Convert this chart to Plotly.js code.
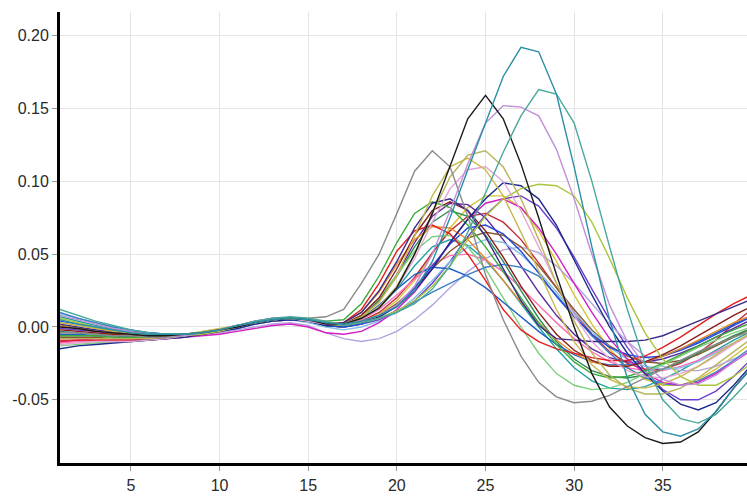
<!DOCTYPE html>
<html>
<head>
<meta charset="utf-8">
<script src="https://cdn.plot.ly/plotly-3.0.1.min.js"></script>
<style>html,body{margin:0;padding:0;background:#fff;}#chart{width:747px;height:499px;}</style>
</head>
<body>
<div id="chart"></div>
<script>
const cycles = [1,2,3,4,5,6,7,8,9,10,11,12,13,14,15,16,17,18,19,20,21,22,23,24,25,26,27,28,29,30,31,32,33,34,35,36,37,38,39,40];

const xTickVals = [5,10,15,20,25,30,35,40];
const xTickText = ["5","10","15","20","25","30","35","40"];
const yTickVals = [-0.05,0,0.05,0.10,0.15,0.20];
const yTickText = ["-0.05","0.00","0.05","0.10","0.15","0.20"];

const wellTeal = [0.005,0.002,0.000,-0.002,-0.004,-0.005,-0.005,-0.005,-0.004,-0.002,0.001,0.003,0.005,0.006,0.005,0.003,0.002,0.004,0.008,0.014,0.025,0.045,0.075,0.108,0.140,0.172,0.192,0.189,0.160,0.110,0.055,0.005,-0.035,-0.060,-0.072,-0.075,-0.070,-0.058,-0.042,-0.028];
const wellLightTeal = [0.012,0.008,0.004,0.001,-0.002,-0.004,-0.005,-0.005,-0.004,-0.002,0.001,0.004,0.006,0.007,0.006,0.004,0.001,0.003,0.006,0.010,0.016,0.026,0.042,0.065,0.092,0.120,0.145,0.163,0.160,0.140,0.100,0.055,0.012,-0.025,-0.050,-0.063,-0.066,-0.060,-0.048,-0.035];
const wellBlack = [0.000,-0.001,-0.003,-0.004,-0.005,-0.006,-0.006,-0.005,-0.004,-0.002,0.000,0.003,0.005,0.006,0.005,0.002,0.002,0.006,0.013,0.027,0.050,0.078,0.110,0.143,0.159,0.143,0.112,0.075,0.036,0.000,-0.032,-0.055,-0.068,-0.076,-0.080,-0.079,-0.072,-0.058,-0.042,-0.028];
const wellPlum = [0.008,0.005,0.002,-0.001,-0.003,-0.005,-0.006,-0.006,-0.004,-0.002,0.001,0.004,0.006,0.006,0.005,0.003,0.002,0.004,0.008,0.015,0.028,0.050,0.080,0.112,0.140,0.152,0.151,0.145,0.122,0.088,0.050,0.015,-0.010,-0.026,-0.036,-0.040,-0.039,-0.033,-0.024,-0.015];
const wellGrey = [-0.004,-0.004,-0.005,-0.006,-0.006,-0.007,-0.007,-0.006,-0.004,-0.002,0.000,0.003,0.005,0.006,0.006,0.007,0.012,0.030,0.050,0.078,0.107,0.121,0.110,0.076,0.036,0.005,-0.020,-0.038,-0.048,-0.052,-0.051,-0.047,-0.041,-0.035,-0.029,-0.023,-0.017,-0.012,-0.007,-0.003];
const wellKhaki = [-0.008,-0.008,-0.008,-0.008,-0.008,-0.008,-0.007,-0.006,-0.004,-0.002,0.001,0.003,0.005,0.006,0.005,0.003,0.002,0.006,0.014,0.028,0.050,0.078,0.103,0.118,0.121,0.110,0.088,0.060,0.030,0.004,-0.018,-0.033,-0.042,-0.046,-0.046,-0.042,-0.035,-0.026,-0.017,-0.008];
const wellOlive = [0.003,0.001,-0.001,-0.003,-0.004,-0.005,-0.005,-0.005,-0.003,-0.001,0.001,0.003,0.005,0.006,0.005,0.003,0.002,0.007,0.017,0.035,0.062,0.090,0.110,0.116,0.108,0.090,0.065,0.038,0.012,-0.010,-0.026,-0.036,-0.041,-0.042,-0.039,-0.034,-0.027,-0.019,-0.011,-0.004];
const wellPinkLight = [-0.012,-0.011,-0.010,-0.010,-0.010,-0.009,-0.008,-0.006,-0.004,-0.002,0.000,0.003,0.005,0.006,0.004,0.002,0.002,0.006,0.014,0.027,0.047,0.072,0.095,0.108,0.110,0.100,0.080,0.055,0.030,0.008,-0.010,-0.022,-0.030,-0.034,-0.035,-0.032,-0.027,-0.020,-0.012,-0.005];
const wellYellowGreen = [0.006,0.003,0.000,-0.002,-0.004,-0.005,-0.006,-0.006,-0.005,-0.003,0.000,0.003,0.005,0.006,0.004,0.002,0.001,0.003,0.006,0.011,0.018,0.028,0.042,0.060,0.076,0.088,0.095,0.098,0.097,0.090,0.072,0.047,0.020,-0.004,-0.022,-0.034,-0.040,-0.040,-0.034,-0.025];
const wellNavy = [-0.015,-0.013,-0.012,-0.011,-0.010,-0.009,-0.008,-0.007,-0.005,-0.003,-0.001,0.002,0.004,0.005,0.004,0.001,0.001,0.003,0.007,0.014,0.025,0.040,0.058,0.074,0.088,0.099,0.097,0.088,0.070,0.046,0.022,0.000,-0.018,-0.032,-0.044,-0.053,-0.057,-0.052,-0.040,-0.026];
const wellIndigo = [0.002,0.000,-0.002,-0.003,-0.004,-0.005,-0.006,-0.005,-0.004,-0.002,0.001,0.004,0.006,0.006,0.005,0.002,0.003,0.010,0.025,0.045,0.068,0.085,0.088,0.080,0.062,0.040,0.018,0.001,-0.008,-0.009,-0.010,-0.010,-0.010,-0.009,-0.006,-0.001,0.004,0.009,0.014,0.019];
const wellGreen = [-0.006,-0.006,-0.006,-0.007,-0.007,-0.007,-0.007,-0.006,-0.004,-0.002,0.000,0.003,0.005,0.006,0.005,0.004,0.005,0.016,0.035,0.058,0.078,0.086,0.082,0.070,0.055,0.038,0.020,0.003,-0.012,-0.024,-0.032,-0.035,-0.034,-0.030,-0.025,-0.019,-0.013,-0.007,-0.002,0.003];
const wellDarkRed = [-0.002,-0.003,-0.004,-0.005,-0.006,-0.007,-0.007,-0.006,-0.005,-0.003,0.000,0.003,0.005,0.006,0.005,0.002,0.002,0.008,0.020,0.040,0.063,0.080,0.086,0.080,0.066,0.048,0.028,0.010,-0.005,-0.016,-0.023,-0.027,-0.027,-0.024,-0.019,-0.013,-0.006,0.001,0.008,0.014];
const wellRed = [-0.010,-0.009,-0.009,-0.009,-0.009,-0.009,-0.008,-0.006,-0.005,-0.003,0.000,0.003,0.005,0.006,0.005,0.003,0.003,0.012,0.030,0.052,0.066,0.070,0.064,0.050,0.032,0.012,-0.002,-0.010,-0.015,-0.018,-0.021,-0.023,-0.023,-0.020,-0.014,-0.007,0.001,0.009,0.016,0.022];
const wellOrange = [0.001,-0.001,-0.002,-0.004,-0.005,-0.006,-0.006,-0.005,-0.004,-0.002,0.001,0.003,0.005,0.006,0.005,0.003,0.003,0.010,0.024,0.043,0.060,0.069,0.068,0.060,0.047,0.032,0.017,0.003,-0.009,-0.018,-0.024,-0.027,-0.027,-0.024,-0.020,-0.015,-0.009,-0.003,0.003,0.008];
const wellMagenta = [-0.010,-0.009,-0.008,-0.008,-0.008,-0.008,-0.008,-0.007,-0.006,-0.005,-0.003,-0.001,0.001,0.002,0.000,-0.004,-0.005,-0.003,0.003,0.012,0.024,0.040,0.058,0.074,0.085,0.088,0.082,0.068,0.050,0.030,0.010,-0.008,-0.022,-0.032,-0.038,-0.040,-0.038,-0.032,-0.024,-0.016];
const wellBlue = [0.004,0.002,0.000,-0.002,-0.003,-0.004,-0.005,-0.005,-0.004,-0.002,0.001,0.003,0.005,0.006,0.004,0.001,0.000,0.002,0.007,0.015,0.027,0.042,0.057,0.068,0.070,0.064,0.052,0.037,0.021,0.007,-0.005,-0.014,-0.019,-0.021,-0.020,-0.016,-0.011,-0.005,0.001,0.007];
const wellSteelBlue = [0.010,0.006,0.003,0.000,-0.002,-0.004,-0.005,-0.005,-0.004,-0.002,0.000,0.003,0.005,0.005,0.004,0.001,0.000,0.002,0.006,0.011,0.017,0.024,0.030,0.036,0.041,0.043,0.041,0.035,0.022,0.008,-0.006,-0.018,-0.028,-0.035,-0.039,-0.040,-0.037,-0.031,-0.023,-0.014];
const wellBlue2 = [-0.005,-0.005,-0.006,-0.006,-0.007,-0.007,-0.007,-0.006,-0.004,-0.002,0.000,0.003,0.005,0.006,0.004,0.002,0.001,0.006,0.015,0.026,0.036,0.041,0.040,0.035,0.027,0.017,0.007,-0.003,-0.012,-0.019,-0.024,-0.026,-0.026,-0.024,-0.020,-0.015,-0.010,-0.004,0.002,0.007];
const wellLightBlue = [0.009,0.006,0.003,0.000,-0.002,-0.004,-0.005,-0.005,-0.004,-0.003,-0.001,0.002,0.004,0.005,0.003,0.000,-0.002,0.000,0.004,0.010,0.020,0.032,0.045,0.055,0.060,0.058,0.050,0.038,0.024,0.010,-0.003,-0.014,-0.022,-0.027,-0.029,-0.028,-0.024,-0.018,-0.011,-0.004];
const wellLightGreen = [-0.013,-0.012,-0.011,-0.010,-0.010,-0.009,-0.008,-0.006,-0.004,-0.002,0.000,0.003,0.005,0.006,0.005,0.003,0.002,0.008,0.020,0.036,0.052,0.062,0.063,0.055,0.040,0.020,0.000,-0.018,-0.032,-0.040,-0.043,-0.042,-0.038,-0.032,-0.026,-0.020,-0.014,-0.009,-0.004,0.000];
const wellSeaGreen = [-0.003,-0.004,-0.005,-0.005,-0.006,-0.006,-0.006,-0.005,-0.004,-0.002,0.001,0.003,0.005,0.006,0.005,0.003,0.002,0.007,0.018,0.035,0.055,0.072,0.080,0.076,0.063,0.045,0.025,0.006,-0.010,-0.022,-0.030,-0.034,-0.035,-0.033,-0.029,-0.024,-0.018,-0.012,-0.006,-0.001];
const wellBrown = [-0.007,-0.007,-0.007,-0.008,-0.008,-0.008,-0.007,-0.006,-0.004,-0.002,0.000,0.002,0.004,0.005,0.004,0.001,0.000,0.003,0.008,0.016,0.027,0.040,0.052,0.061,0.065,0.063,0.055,0.042,0.027,0.012,-0.002,-0.013,-0.020,-0.024,-0.025,-0.023,-0.019,-0.013,-0.007,-0.001];
const wellViolet = [0.001,-0.001,-0.002,-0.004,-0.005,-0.005,-0.006,-0.005,-0.004,-0.002,0.001,0.003,0.005,0.006,0.005,0.003,0.002,0.007,0.018,0.036,0.058,0.076,0.085,0.084,0.075,0.060,0.042,0.024,0.008,-0.005,-0.015,-0.021,-0.024,-0.024,-0.022,-0.018,-0.013,-0.007,-0.001,0.005];
const wellHotPink = [-0.011,-0.010,-0.010,-0.010,-0.010,-0.009,-0.008,-0.007,-0.005,-0.003,-0.001,0.002,0.004,0.005,0.004,0.002,0.001,0.005,0.012,0.022,0.033,0.043,0.049,0.050,0.046,0.038,0.027,0.015,0.003,-0.008,-0.017,-0.024,-0.028,-0.030,-0.030,-0.027,-0.023,-0.017,-0.011,-0.005];
const wellLavender = [-0.006,-0.006,-0.006,-0.006,-0.006,-0.006,-0.006,-0.006,-0.005,-0.004,-0.002,0.000,0.002,0.003,0.001,-0.004,-0.008,-0.010,-0.008,-0.003,0.005,0.015,0.027,0.038,0.047,0.053,0.055,0.051,0.042,0.030,0.016,0.002,-0.010,-0.020,-0.027,-0.030,-0.030,-0.027,-0.022,-0.016];
const wellTealGreen = [0.007,0.004,0.001,-0.001,-0.003,-0.005,-0.006,-0.006,-0.004,-0.002,0.001,0.003,0.005,0.006,0.005,0.003,0.001,0.005,0.013,0.026,0.042,0.055,0.060,0.056,0.046,0.032,0.016,0.000,-0.015,-0.028,-0.037,-0.042,-0.043,-0.041,-0.036,-0.030,-0.023,-0.016,-0.009,-0.003];
const wellCrimson = [-0.009,-0.009,-0.009,-0.009,-0.009,-0.008,-0.008,-0.006,-0.005,-0.003,0.000,0.003,0.005,0.006,0.005,0.002,0.001,0.004,0.010,0.020,0.034,0.051,0.066,0.076,0.078,0.072,0.060,0.044,0.027,0.010,-0.005,-0.017,-0.025,-0.029,-0.029,-0.025,-0.018,-0.009,0.002,0.012];
const wellPurpleBlue = [-0.001,-0.002,-0.003,-0.004,-0.005,-0.006,-0.006,-0.005,-0.004,-0.002,0.000,0.003,0.004,0.005,0.004,0.001,0.000,0.002,0.005,0.010,0.018,0.030,0.045,0.062,0.077,0.088,0.090,0.083,0.068,0.048,0.026,0.005,-0.014,-0.030,-0.043,-0.050,-0.050,-0.044,-0.034,-0.022];
const wellGold = [0.003,0.001,-0.001,-0.003,-0.004,-0.005,-0.006,-0.005,-0.004,-0.002,0.001,0.003,0.005,0.006,0.005,0.003,0.001,0.004,0.009,0.018,0.032,0.050,0.068,0.082,0.090,0.090,0.082,0.066,0.045,0.022,0.002,-0.015,-0.028,-0.036,-0.040,-0.040,-0.036,-0.029,-0.020,-0.011];

const seriesList = [
  wellGold, wellPurpleBlue, wellCrimson, wellTealGreen, wellLavender, wellHotPink, wellViolet, wellBrown,
  wellSeaGreen, wellLightGreen, wellLightBlue, wellBlue2, wellSteelBlue, wellBlue, wellMagenta, wellOrange,
  wellRed, wellDarkRed, wellGreen, wellIndigo, wellNavy, wellYellowGreen, wellPinkLight, wellOlive,
  wellKhaki, wellGrey, wellPlum, wellBlack, wellLightTeal, wellTeal
];
const seriesColors = [
  "#d6c436", "#6a3fd0", "#c42a3c", "#22a3a3", "#b3a4e0", "#ff6fb5", "#5b2aa0", "#8b5a2b",
  "#2e8b57", "#7ccf7c", "#86bde8", "#2060c0", "#3b80c6", "#2448d8", "#d21fc3", "#e8892c",
  "#e21f1f", "#8b1c1c", "#3aaa3a", "#3b2a8c", "#1c2a8a", "#a9c63c", "#e2a6d6", "#c9b94e",
  "#b8b45c", "#8a8a8a", "#c090d8", "#1a1a1a", "#48a89a", "#2b8fa6"
];

const traces = seriesList.map((vals, i) => ({
  type: "scatter",
  mode: "lines",
  x: cycles,
  y: vals,
  line: {color: seriesColors[i], width: 1.4},
  hoverinfo: "skip",
  showlegend: false
}));

const tickFont = {family: "Arial, 'Liberation Sans', sans-serif", size: 16, color: "#2a2a2a"};

const layout = {
  width: 747,
  height: 499,
  margin: {l: 60, r: 0, t: 12, b: 36, pad: 0},
  paper_bgcolor: "#ffffff",
  plot_bgcolor: "#ffffff",
  showlegend: false,
  font: tickFont,
  xaxis: {
    range: [1, 39.75],
    tickmode: "array",
    tickvals: xTickVals,
    ticktext: xTickText,
    ticks: "outside",
    ticklen: 5,
    tickcolor: "#9a9a9a",
    tickwidth: 1,
    ticklabelstandoff: 1,
    showgrid: true,
    gridcolor: "#e4e4e4",
    gridwidth: 1,
    zeroline: false,
    showline: true,
    linecolor: "#000000",
    linewidth: 3,
    tickfont: tickFont
  },
  yaxis: {
    range: [-0.0934, 0.2163],
    tickmode: "array",
    tickvals: yTickVals,
    ticktext: yTickText,
    ticks: "outside",
    ticklen: 5,
    tickcolor: "#9a9a9a",
    tickwidth: 1,
    showgrid: true,
    gridcolor: "#e4e4e4",
    gridwidth: 1,
    zeroline: false,
    showline: true,
    linecolor: "#000000",
    linewidth: 3,
    tickfont: tickFont
  }
};

Plotly.newPlot("chart", traces, layout, {displayModeBar: false, staticPlot: true});
</script>
</body>
</html>
